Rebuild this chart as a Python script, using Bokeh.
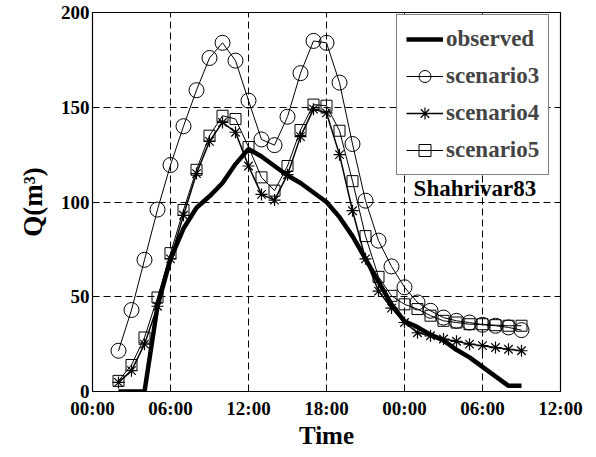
from bokeh.plotting import figure
from bokeh.models import Range1d, FixedTicker, Legend, LegendItem, Label
from bokeh.embed import file_html
from bokeh.resources import INLINE

hours = list(range(2, 34))
observed = [0, 0, 0, 45, 70, 86, 97, 103, 110, 120, 128, 124, 119, 114, 110, 105, 100,
            92, 82, 70, 58, 46, 37, 34, 30, 27, 22, 18, 13, 8, 3, 3]
scenario3 = [21.5, 43, 69.5, 96, 119.5, 140, 159, 176, 184, 174.6, 153.5, 133, 130, 145,
             168, 185, 184, 163, 130.6, 100.7, 79.6, 66, 55, 47, 42.6, 39, 37.3, 36.4,
             35.2, 34.7, 33.8, 32.4]
scenario4 = [4.8, 11, 25, 45, 70, 93, 115, 132, 142, 136.8, 119, 104, 101, 114.4, 134.5,
             149, 147, 125, 95.4, 70, 53, 44, 36.4, 31, 29.4, 27.7, 26.5, 25, 24.2, 23.2,
             22.3, 21.5]
scenario5 = [5.6, 14, 28.5, 49.6, 73, 95.8, 117, 135, 145.5, 143.8, 129, 113, 106, 119,
             138, 151.4, 150.8, 137.6, 111, 82, 60.5, 50.5, 46, 43.5, 40, 37.3, 36.4,
             35.5, 35.5, 35, 34.7, 34.7]
x_ticks = [0, 6, 12, 18, 24, 30, 36]
x_tick_labels = ["00:00", "06:00", "12:00", "18:00", "00:00", "06:00", "12:00"]
y_ticks = [0, 50, 100, 150, 200]
series_names = ["observed", "scenario3", "scenario4", "scenario5"]
annotation = "Shahrivar83"

FONT = "Liberation Serif"

p = figure(width=596, height=457, output_backend="svg", toolbar_location=None,
           x_range=Range1d(0, 36), y_range=Range1d(0, 200),
           min_border_left=92, min_border_right=36, min_border_top=12, min_border_bottom=66)
p.outline_line_color = "black"
p.outline_line_width = 1.2
p.background_fill_color = "white"
p.border_fill_color = "white"

p.xaxis.ticker = FixedTicker(ticks=x_ticks)
p.xaxis.major_label_overrides = {t: l for t, l in zip(x_ticks, x_tick_labels)}
p.yaxis.ticker = FixedTicker(ticks=y_ticks)
for ax in (p.xaxis, p.yaxis):
    ax.major_tick_in = 5
    ax.major_tick_out = 0
    ax.minor_tick_in = 0
    ax.minor_tick_out = 0
    ax.axis_line_color = "black"
    ax.major_label_text_font = FONT
    ax.major_label_text_font_style = "bold"
    ax.major_label_text_font_size = "19px"
    ax.major_label_text_color = "black"
    ax.axis_label_text_font = FONT
    ax.axis_label_text_font_style = "bold"
    ax.axis_label_text_color = "black"
p.xaxis.major_label_standoff = 6
p.yaxis.major_label_standoff = 3
p.xaxis.axis_label = "Time"
p.xaxis.axis_label_text_font_size = "25px"
p.xaxis.axis_label_standoff = 0
p.yaxis.axis_label = "Q(m³)"
p.yaxis.axis_label_text_font_size = "27px"
p.yaxis.axis_label_standoff = 10

p.grid.grid_line_color = "black"
p.grid.grid_line_dash = "7 4"
p.grid.grid_line_width = 1

r_obs = p.line(hours, observed, line_color="black", line_width=4.5)
l3 = p.line(hours, scenario3, line_color="black", line_width=1)
m3 = p.scatter(hours, scenario3, marker="circle", size=15, fill_color="white",
               fill_alpha=0, line_color="black", line_width=1)
l4 = p.line(hours, scenario4, line_color="black", line_width=1.5)
m4 = p.scatter(hours, scenario4, marker="asterisk", size=12, line_color="black",
               line_width=1.2)
l5 = p.line(hours, scenario5, line_color="black", line_width=1)
m5 = p.scatter(hours, scenario5, marker="square", size=11, fill_alpha=0,
               line_color="black", line_width=1)

legend = Legend(items=[
    LegendItem(label=series_names[0], renderers=[r_obs]),
    LegendItem(label=series_names[1], renderers=[l3, m3]),
    LegendItem(label=series_names[2], renderers=[l4, m4]),
    LegendItem(label=series_names[3], renderers=[l5, m5]),
], location=(304, 216))
legend.margin = 0
legend.padding = 9
legend.spacing = 7
legend.label_height = 30
legend.glyph_height = 30
legend.glyph_width = 37
legend.label_standoff = 3
legend.label_text_font = FONT
legend.label_text_font_style = "bold"
legend.label_text_font_size = "23px"
legend.border_line_color = "black"
legend.border_line_width = 1
legend.background_fill_alpha = 1
p.add_layout(legend)

p.add_layout(Label(x=24.7, y=107, text=annotation, text_font=FONT,
                   text_font_style="bold", text_font_size="23px",
                   text_baseline="middle", text_color="black"))

open("out.html", "w").write(file_html(p, INLINE))
